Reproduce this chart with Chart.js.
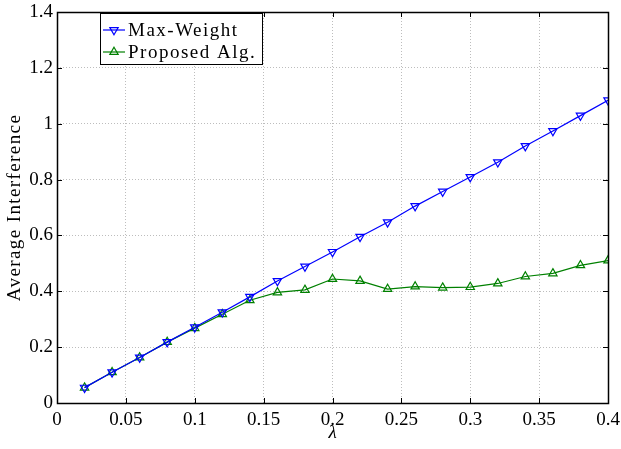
<!DOCTYPE html>
<html><head><meta charset="utf-8">
<script src="https://cdn.jsdelivr.net/npm/chart.js@4/dist/chart.umd.min.js"></script>
<style>html,body{margin:0;padding:0;background:#fff}#wrap{width:621px;height:449px}</style>
</head><body><div id="wrap"><canvas id="c" width="621" height="449"></canvas></div>
<script>
const lambdaValues = [0.02,0.04,0.06,0.08,0.10,0.12,0.14,0.16,0.18,0.20,0.22,0.24,0.26,0.28,0.30,0.32,0.34,0.36,0.38,0.40];
const maxWeight    = [0.055,0.110,0.163,0.218,0.271,0.325,0.380,0.437,0.489,0.541,0.595,0.647,0.705,0.757,0.809,0.862,0.920,0.974,1.029,1.084];
const proposedAlg  = [0.055,0.110,0.163,0.218,0.268,0.318,0.368,0.396,0.405,0.444,0.437,0.408,0.417,0.413,0.415,0.428,0.453,0.464,0.493,0.510];
const xTicks = [0,0.05,0.1,0.15,0.2,0.25,0.3,0.35,0.4];
const yTicks = [0,0.2,0.4,0.6,0.8,1,1.2,1.4];
const seriesNames = ['Max-Weight','Proposed Alg.'];
const xTitle = 'λ';
const yTitle = 'Average Interference';

const FONT = "'Liberation Serif', serif";
const BLUE = '#0000ff', GREEN = '#008000';

function pts(ys){ return lambdaValues.map((x,i)=>({x:x,y:ys[i]})); }
function fmt(v){ return String(+(+v).toFixed(2)); }

function patchTitle(scale, spacing){
  if (scale._patched) return;
  scale._patched = true;
  const orig = scale.drawTitle.bind(scale);
  scale.drawTitle = function(){
    const ctx = scale.ctx;
    const prev = ctx.letterSpacing;
    ctx.letterSpacing = spacing;
    orig();
    ctx.letterSpacing = prev || '0px';
  };
}

function drawTri(ctx, x, y, r, down){
  ctx.beginPath();
  const s = down ? -1 : 1;
  ctx.moveTo(x, y - s*r);
  ctx.lineTo(x + r*0.866, y + s*r*0.5);
  ctx.lineTo(x - r*0.866, y + s*r*0.5);
  ctx.closePath();
  ctx.stroke();
}

const framePlugin = {
  id: 'frame',
  afterDraw(chart){
    const ctx = chart.ctx, a = chart.chartArea;
    const xs = chart.scales.x, ys = chart.scales.y;
    ctx.save();
    ctx.strokeStyle = '#000'; ctx.lineWidth = 1;
    ctx.beginPath();
    xs.ticks.forEach(t=>{
      const px = Math.round(xs.getPixelForValue(t.value)) + 0.5;
      ctx.moveTo(px, a.bottom); ctx.lineTo(px, a.bottom - 5);
      ctx.moveTo(px, a.top); ctx.lineTo(px, a.top + 5);
    });
    ys.ticks.forEach(t=>{
      const py = Math.round(ys.getPixelForValue(t.value)) + 0.5;
      ctx.moveTo(a.left, py); ctx.lineTo(a.left + 5, py);
      ctx.moveTo(a.right, py); ctx.lineTo(a.right - 5, py);
    });
    ctx.stroke();
    ctx.lineWidth = 1.5;
    ctx.strokeRect(Math.round(a.left)+0.5, Math.round(a.top)+0.5, Math.round(a.right-a.left), Math.round(a.bottom-a.top));
    // legend
    const lx = 100.5, ly = 13.5, lw = 162, lh = 51;
    ctx.fillStyle = '#fff';
    ctx.fillRect(lx, ly, lw, lh);
    ctx.lineWidth = 1;
    ctx.strokeStyle = '#000';
    ctx.strokeRect(lx, ly, lw, lh);
    const rows = [30, 52];
    chart.data.datasets.forEach((ds, i)=>{
      const yy = rows[i];
      ctx.strokeStyle = ds.borderColor; ctx.lineWidth = 1.2;
      ctx.beginPath(); ctx.moveTo(103, yy); ctx.lineTo(125, yy); ctx.stroke();
      drawTri(ctx, 114, yy, 4.8, i === 0);
      ctx.fillStyle = '#000';
      ctx.font = '19px ' + FONT;
      ctx.letterSpacing = '1.5px';
      ctx.textBaseline = 'middle';
      ctx.textAlign = 'left';
      ctx.fillText(ds.label, 128, yy + 1);
      ctx.letterSpacing = '0px';
    });
    ctx.restore();
  }
};

new Chart(document.getElementById('c'), {
  type: 'line',
  data: {
    datasets: [
      { label: seriesNames[0], data: pts(maxWeight), borderColor: BLUE, backgroundColor: 'rgba(0,0,0,0)',
        borderWidth: 1.2, pointStyle: 'triangle', pointRotation: 180, pointRadius: 4.8,
        pointBorderColor: BLUE, pointBackgroundColor: 'rgba(0,0,0,0)', pointBorderWidth: 1.2, tension: 0 },
      { label: seriesNames[1], data: pts(proposedAlg), borderColor: GREEN, backgroundColor: 'rgba(0,0,0,0)',
        borderWidth: 1.2, pointStyle: 'triangle', pointRadius: 4.8,
        pointBorderColor: GREEN, pointBackgroundColor: 'rgba(0,0,0,0)', pointBorderWidth: 1.2, tension: 0 }
    ]
  },
  options: {
    responsive: false,
    animation: false,
    devicePixelRatio: 1,
    layout: { padding: { top: 12, right: 13, left: 0, bottom: 0 } },
    plugins: { legend: { display: false }, tooltip: { enabled: false } },
    scales: {
      x: {
        type: 'linear', min: 0, max: 0.4,
        afterBuildTicks: s => { s.ticks = xTicks.map(v=>({value:v})); },
        afterFit: s => { s.height = 46; s.paddingLeft = 0; s.paddingRight = 0; patchTitle(s, '0px'); },
        ticks: { callback: v => fmt(v), font: { family: FONT, size: 19 }, color: '#000', padding: 6, maxRotation: 0, autoSkip: false },
        grid: { color: '#bdbdbd', lineWidth: 1, drawTicks: false },
        border: { display: false, dash: [1, 2] },
        title: { display: true, text: xTitle, font: { family: FONT, size: 19, style: 'italic' }, color: '#000', padding: { top: 0, bottom: 5 } }
      },
      y: {
        type: 'linear', min: 0, max: 1.4,
        afterBuildTicks: s => { s.ticks = yTicks.map(v=>({value:v})); },
        afterFit: s => { s.width = 57; s.paddingTop = 0; s.paddingBottom = 0; patchTitle(s, '1.4px'); },
        ticks: { callback: v => fmt(v), font: { family: FONT, size: 19 }, color: '#000', padding: 4, autoSkip: false },
        grid: { color: '#bdbdbd', lineWidth: 1, drawTicks: false },
        border: { display: false, dash: [1, 2] },
        title: { display: true, text: yTitle, font: { family: FONT, size: 19 }, color: '#000', padding: { top: 4, bottom: 0 } }
      }
    }
  },
  plugins: [framePlugin]
});
</script>
</body></html>
